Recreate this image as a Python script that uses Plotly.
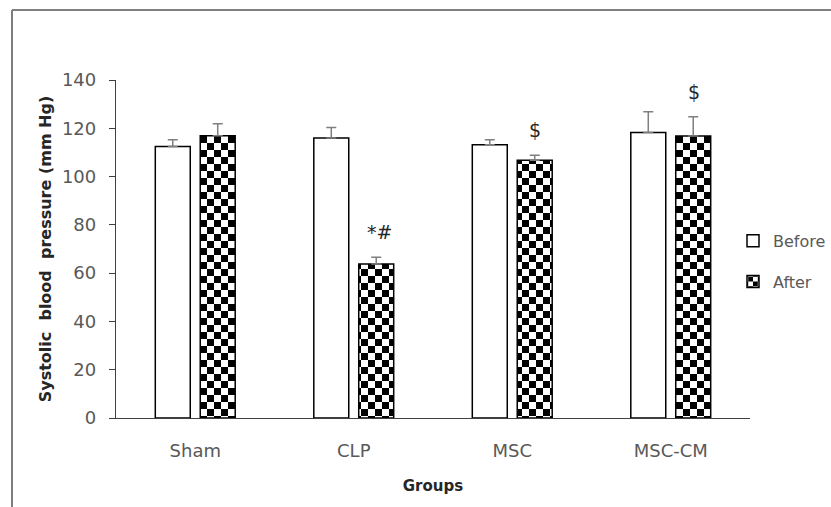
import plotly.graph_objects as go

groups = ["Sham", "CLP", "MSC", "MSC-CM"]
before = [112.5, 116.0, 113.2, 118.3]
before_err = [2.8, 4.3, 2.0, 8.5]
after = [116.9, 63.8, 106.8, 116.8]
after_err = [5.0, 2.8, 2.0, 8.0]
sig_labels = ["", "\u00a0*#", "$", "$"]

y_ticks = [0, 20, 40, 60, 80, 100, 120, 140]

FAMILY = "DejaVu Sans, sans-serif"
TICK_FONT = dict(family=FAMILY, size=18, color="#595959")
TITLE_FONT = dict(family=FAMILY, size=15, color="#262626")

fig = go.Figure()
fig.add_trace(go.Bar(
    name="Before", x=groups, y=before, legendgroup="b",
    marker=dict(color="#ffffff", line=dict(color="#000000", width=1.5)),
    error_y=dict(type="data", symmetric=False, array=before_err,
                 arrayminus=[0] * len(before_err),
                 color="#7f7f7f", thickness=1.5, width=5),
))
fig.add_trace(go.Bar(
    name="After", x=groups, y=after, legendgroup="a",
    marker=dict(color="#ffffff", line=dict(color="#000000", width=1.5),
                pattern=dict(shape="+", fgcolor="#000000", bgcolor="#ffffff",
                             size=12, solidity=0.5)),
    error_y=dict(type="data", symmetric=False, array=after_err,
                 arrayminus=[0] * len(after_err),
                 color="#7f7f7f", thickness=1.5, width=5),
))

for g, v, e, lab in zip(groups, after, after_err, sig_labels):
    if lab:
        fig.add_annotation(x=g, y=v + e, xref="x", yref="y", text=lab,
                           showarrow=False, xshift=23, yshift=25,
                           yanchor="middle",
                           font=dict(family=FAMILY, size=19, color="#262626"))

L, R, T, B = 116, 81, 80, 88.5
W, H = 831, 507
pw, ph = W - L - R, H - T - B


def px_x(p):
    return (p - L) / pw


def px_y(p):
    return (H - B - p) / ph


# outer frame (top and left edges visible)
frame = dict(color="#7f7f7f", width=2)
fig.add_shape(type="line", xref="paper", yref="paper",
              x0=px_x(12), x1=px_x(W + 5), y0=px_y(10), y1=px_y(10), line=frame)
fig.add_shape(type="line", xref="paper", yref="paper",
              x0=px_x(12), x1=px_x(12), y0=px_y(10), y1=px_y(H + 5), line=frame)

fig.update_layout(
    width=W, height=H,
    margin=dict(l=L, r=R, t=T, b=B, pad=0, autoexpand=False),
    paper_bgcolor="#ffffff", plot_bgcolor="#ffffff",
    barmode="group", bargap=0.433, bargroupgap=0.222,
    showlegend=True,
    legend=dict(x=px_x(733), xanchor="left", y=px_y(224), yanchor="top",
                traceorder="grouped", tracegroupgap=17,
                font=dict(family=FAMILY, size=16, color="#595959"),
                bgcolor="rgba(0,0,0,0)"),
    xaxis=dict(showline=True, linecolor="#404040", linewidth=1.3,
               ticks="", showgrid=False, tickfont=TICK_FONT,
               ticklabelstandoff=16,
               title=dict(text="<b>Groups</b>", font=TITLE_FONT, standoff=20)),
    yaxis=dict(range=[0, 140], tickvals=y_ticks, showline=True,
               linecolor="#404040", linewidth=1.3, ticks="outside", ticklen=6,
               tickcolor="#404040", tickwidth=1.3, showgrid=False, zeroline=False,
               tickfont=TICK_FONT, ticklabelstandoff=9,
               title=dict(text="<b>Systolic\u00a0 blood\u00a0 pressure (mm Hg)</b>",
                          font=dict(family=FAMILY, size=16, color="#262626"),
                          standoff=6)),
)

post = """
var gd = document.getElementById('{plot_id}');
var ns = 'http://www.w3.org/2000/svg';
var legendIds = {};
gd.querySelectorAll('.legend path').forEach(function(el){
  var f = (el.getAttribute('style') || '') + ' ' + (el.getAttribute('fill') || '');
  var m = f.match(/#([^'")]+)/);
  if (m) { legendIds[m[1]] = true; }
});
gd.querySelectorAll('pattern').forEach(function(p){
  var S = legendIds[p.id] ? 6 : 7;
  p.setAttribute('width', 2*S); p.setAttribute('height', 2*S);
  p.setAttribute('patternUnits', 'userSpaceOnUse');
  while (p.firstChild) { p.removeChild(p.firstChild); }
  function r(x, y, w, h, c){
    var e = document.createElementNS(ns, 'rect');
    e.setAttribute('x', x); e.setAttribute('y', y);
    e.setAttribute('width', w); e.setAttribute('height', h);
    e.setAttribute('fill', c); p.appendChild(e);
  }
  r(0, 0, 2*S, 2*S, '#ffffff'); r(0, 0, S, S, '#000000'); r(S, S, S, S, '#000000');
});
"""

fig.write_html("out.html", post_script=post)
